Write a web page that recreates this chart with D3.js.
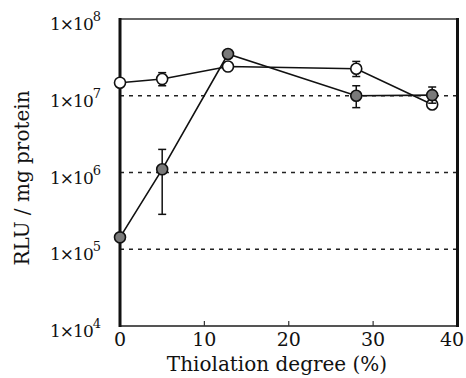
<!DOCTYPE html>
<html lang="en">
	<head>
		<meta charset="utf-8">
		<title>RLU vs thiolation degree</title>
		<script type="text/javascript" src="https://cdn.jsdelivr.net/npm/d3@7"></script>
		<style type="text/css">
			body { margin: 0; background: #fff; }
		</style>
	</head>
	<body>
		<script type="text/javascript">

			//Data
			var thiolation = [0, 5, 12.8, 28, 37];
			var openVals   = [1.48e7, 1.65e7, 2.4e7, 2.25e7, 7.7e6];
			var openLow    = [null, 1.35e7, null, 1.78e7, null];
			var openHigh   = [null, 2.0e7, null, 2.8e7, null];
			var filledVals = [1.43e5, 1.1e6, 3.5e7, 1.0e7, 1.02e7];
			var filledLow  = [null, 2.85e5, null, 7.0e6, 8.0e6];
			var filledHigh = [null, 2.0e6, null, 1.35e7, 1.3e7];
			var xTicks = [0, 10, 20, 30, 40];
			var yExps  = [4, 5, 6, 7, 8];
			var gridExps = [5, 6, 7];

			//Width and height
			var w = 466;
			var h = 378;
			var pLeft = 120, pRight = 457.5, pTop = 19, pBottom = 326;

			var x = d3.scaleLinear().domain([0, 40]).range([pLeft, pRight]);
			var y = d3.scaleLog().domain([1e4, 1e8]).range([pBottom, pTop]);

			var svg = d3.select("body")
						.append("svg")
						.attr("width", w)
						.attr("height", h)
						.style("font-family", "'DejaVu Serif', serif")
						.attr("fill", "#111");

			//dashed grid lines
			svg.selectAll("line.grid")
			   .data(gridExps)
			   .enter()
			   .append("line")
			   .attr("class", "grid")
			   .attr("x1", pLeft)
			   .attr("x2", pRight)
			   .attr("y1", function(d) { return y(Math.pow(10, d)); })
			   .attr("y2", function(d) { return y(Math.pow(10, d)); })
			   .attr("stroke", "#222")
			   .attr("stroke-width", 1.6)
			   .attr("stroke-dasharray", "4,5");

			//frame
			svg.append("line").attr("x1", pLeft).attr("x2", pRight).attr("y1", pTop).attr("y2", pTop)
			   .attr("stroke", "#666").attr("stroke-width", 2);
			svg.append("line").attr("x1", pLeft).attr("x2", pRight).attr("y1", pBottom).attr("y2", pBottom)
			   .attr("stroke", "#555").attr("stroke-width", 2);
			svg.append("line").attr("x1", pLeft).attr("x2", pLeft).attr("y1", pTop - 1).attr("y2", pBottom + 1)
			   .attr("stroke", "#111").attr("stroke-width", 3);
			svg.append("line").attr("x1", pRight).attr("x2", pRight).attr("y1", pTop - 1).attr("y2", pBottom + 1)
			   .attr("stroke", "#111").attr("stroke-width", 3);

			//x ticks (inward)
			svg.selectAll("line.xtick")
			   .data([10, 20, 30])
			   .enter()
			   .append("line")
			   .attr("x1", function(d) { return x(d); })
			   .attr("x2", function(d) { return x(d); })
			   .attr("y1", pBottom)
			   .attr("y2", pBottom - 5)
			   .attr("stroke", "#333")
			   .attr("stroke-width", 1.2);

			svg.selectAll("text.xlab")
			   .data(xTicks)
			   .enter()
			   .append("text")
			   .attr("x", function(d) { return Math.min(x(d), w - 14); })
			   .attr("y", 346)
			   .attr("text-anchor", "middle")
			   .attr("font-size", "19px")
			   .text(function(d) { return d; });

			//y tick labels 1x10^n
			var ylab = svg.selectAll("text.ylab")
			   .data(yExps)
			   .enter()
			   .append("text")
			   .attr("x", 101)
			   .attr("y", function(d) { return y(Math.pow(10, d)) + 11; })
			   .attr("text-anchor", "end")
			   .attr("font-size", "17px")
			   .attr("letter-spacing", "-1px");
			ylab.append("tspan").text("1\u00d710");
			ylab.append("tspan")
			   .attr("dy", -9)
			   .attr("font-size", "13px")
			   .attr("letter-spacing", "0px")
			   .text(function(d) { return d; });

			//axis titles
			svg.append("text")
			   .attr("x", 277)
			   .attr("y", 371)
			   .attr("text-anchor", "middle")
			   .attr("font-size", "20px")
			   .text("Thiolation degree (%)");

			svg.append("text")
			   .attr("transform", "translate(29,178) rotate(-90)")
			   .attr("text-anchor", "middle")
			   .attr("font-size", "20px")
			   .text("RLU / mg protein");

			//series
			function drawSeries(vals, lows, highs, fill) {
				var pts = thiolation.map(function(t, i) { return [t, vals[i], lows[i], highs[i]]; });
				var line = d3.line()
							 .x(function(d) { return x(d[0]); })
							 .y(function(d) { return y(d[1]); });
				svg.append("path")
				   .datum(pts)
				   .attr("d", line)
				   .attr("fill", "none")
				   .attr("stroke", "#111")
				   .attr("stroke-width", 1.6);

				var bars = pts.filter(function(d) { return d[2] != null; });
				var g = svg.append("g").attr("stroke", "#111").attr("stroke-width", 1.5);
				g.selectAll("line.v")
				 .data(bars)
				 .enter()
				 .append("line")
				 .attr("x1", function(d) { return x(d[0]); })
				 .attr("x2", function(d) { return x(d[0]); })
				 .attr("y1", function(d) { return y(d[2]); })
				 .attr("y2", function(d) { return y(d[3]); });
				g.selectAll("line.lo")
				 .data(bars)
				 .enter()
				 .append("line")
				 .attr("x1", function(d) { return x(d[0]) - 4; })
				 .attr("x2", function(d) { return x(d[0]) + 4; })
				 .attr("y1", function(d) { return y(d[2]); })
				 .attr("y2", function(d) { return y(d[2]); });
				g.selectAll("line.hi")
				 .data(bars)
				 .enter()
				 .append("line")
				 .attr("x1", function(d) { return x(d[0]) - 4; })
				 .attr("x2", function(d) { return x(d[0]) + 4; })
				 .attr("y1", function(d) { return y(d[3]); })
				 .attr("y2", function(d) { return y(d[3]); });

				svg.selectAll(null)
				   .data(pts)
				   .enter()
				   .append("circle")
				   .attr("cx", function(d) { return x(d[0]); })
				   .attr("cy", function(d) { return y(d[1]); })
				   .attr("r", 5.5)
				   .attr("fill", fill)
				   .attr("stroke", "#111")
				   .attr("stroke-width", 1.6);
			}

			drawSeries(openVals, openLow, openHigh, "#fff");
			drawSeries(filledVals, filledLow, filledHigh, "#7a7a7a");

		</script>
	</body>
</html>
